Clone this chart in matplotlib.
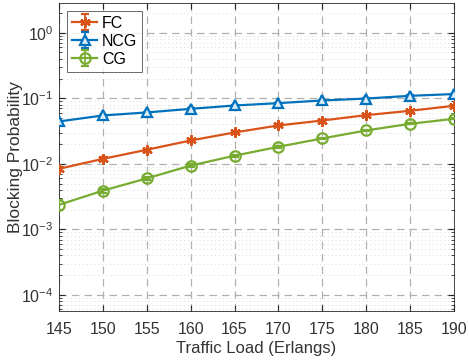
import matplotlib
matplotlib.use("Agg")
import matplotlib.pyplot as plt
import numpy as np

plt.rcParams['font.family'] = ['Liberation Sans', 'DejaVu Sans']
plt.rcParams['mathtext.fontset'] = 'custom'
plt.rcParams['mathtext.rm'] = 'Liberation Sans'
plt.rcParams['mathtext.it'] = 'Liberation Sans:italic'

load = [145, 150, 155, 160, 165, 170, 175, 180, 185, 190]
fc = [0.0084, 0.0119, 0.0164, 0.0227, 0.0301, 0.0385, 0.0458, 0.0553, 0.0644, 0.0768]
ncg = [0.0443, 0.0547, 0.0608, 0.0690, 0.0776, 0.0843, 0.0926, 0.0990, 0.1090, 0.1160]
cg = [0.00237, 0.0039, 0.0060, 0.0094, 0.0133, 0.0182, 0.0244, 0.0323, 0.0408, 0.0486]
fc_err = [0.0006, 0.0006, 0.0007, 0.0008, 0.0009, 0.0010, 0.0010, 0.0011, 0.0012, 0.0013]
ncg_err = [0.0015, 0.0015, 0.0016, 0.0016, 0.0017, 0.0017, 0.0018, 0.0018, 0.0019, 0.0020]
cg_err = [0.0004, 0.0003, 0.0004, 0.0004, 0.0005, 0.0006, 0.0007, 0.0008, 0.0008, 0.0009]

fig = plt.figure(figsize=(4.69, 3.62), dpi=100)
ax = fig.add_axes([0.1258, 0.141, 0.842, 0.851])

c_fc = '#D95319'
c_ncg = '#0072BD'
c_cg = '#77AC30'

ax.errorbar(load, fc, yerr=fc_err, color=c_fc, marker=(6, 2, 0), ms=7.5, mew=1.6,
            lw=1.6, capsize=3, elinewidth=1.2, label='FC', zorder=3)
ax.errorbar(load, ncg, yerr=ncg_err, color=c_ncg, marker='^', ms=7.5, mew=1.6,
            mfc=(0.85, 0.92, 0.97), lw=1.6, capsize=3, elinewidth=1.2, label='NCG', zorder=3)
ax.errorbar(load, cg, yerr=cg_err, color=c_cg, marker='o', ms=7.5, mew=1.6,
            mfc='none', lw=1.6, capsize=3, elinewidth=1.2, label='CG', zorder=3)

ax.set_yscale('log')
ax.set_xlim(145, 190)
ax.set_ylim(5.7e-5, 2.85)
ax.set_xticks(load)
ax.set_yticks([1e-4, 1e-3, 1e-2, 1e-1, 1e0])

ax.grid(True, which='major', linestyle=(0, (6, 4)), color='#b0b0b0', lw=0.9)
ax.grid(True, which='minor', axis='y', linestyle=(0, (1, 3)), color='#dadada', lw=0.7)

ax.tick_params(which='both', direction='in', top=True, right=True, colors='#262626',
               labelsize=11.5, labelcolor='#333333')
ax.tick_params(which='major', length=4)
ax.tick_params(which='minor', length=2.5)
ax.tick_params(axis='x', which='major', pad=8)
ax.tick_params(axis='y', which='major', pad=4)
for s in ax.spines.values():
    s.set_color('#262626')
    s.set_linewidth(0.6)

ax.set_xlabel('Traffic Load (Erlangs)', fontsize=12, color='#333333', labelpad=3)
ax.set_ylabel('Blocking Probability', fontsize=12.5, color='#333333')
ax.yaxis.set_label_coords(-36 / 395, 0.5)

leg = ax.legend(loc='upper left', fontsize=11.5, frameon=True, fancybox=False,
                edgecolor='#262626', handlelength=1.6, borderaxespad=0.5,
                labelspacing=0.2, handletextpad=0.3, borderpad=0.3)
leg.get_frame().set_linewidth(0.6)

fig.savefig('out.png', dpi=100)
